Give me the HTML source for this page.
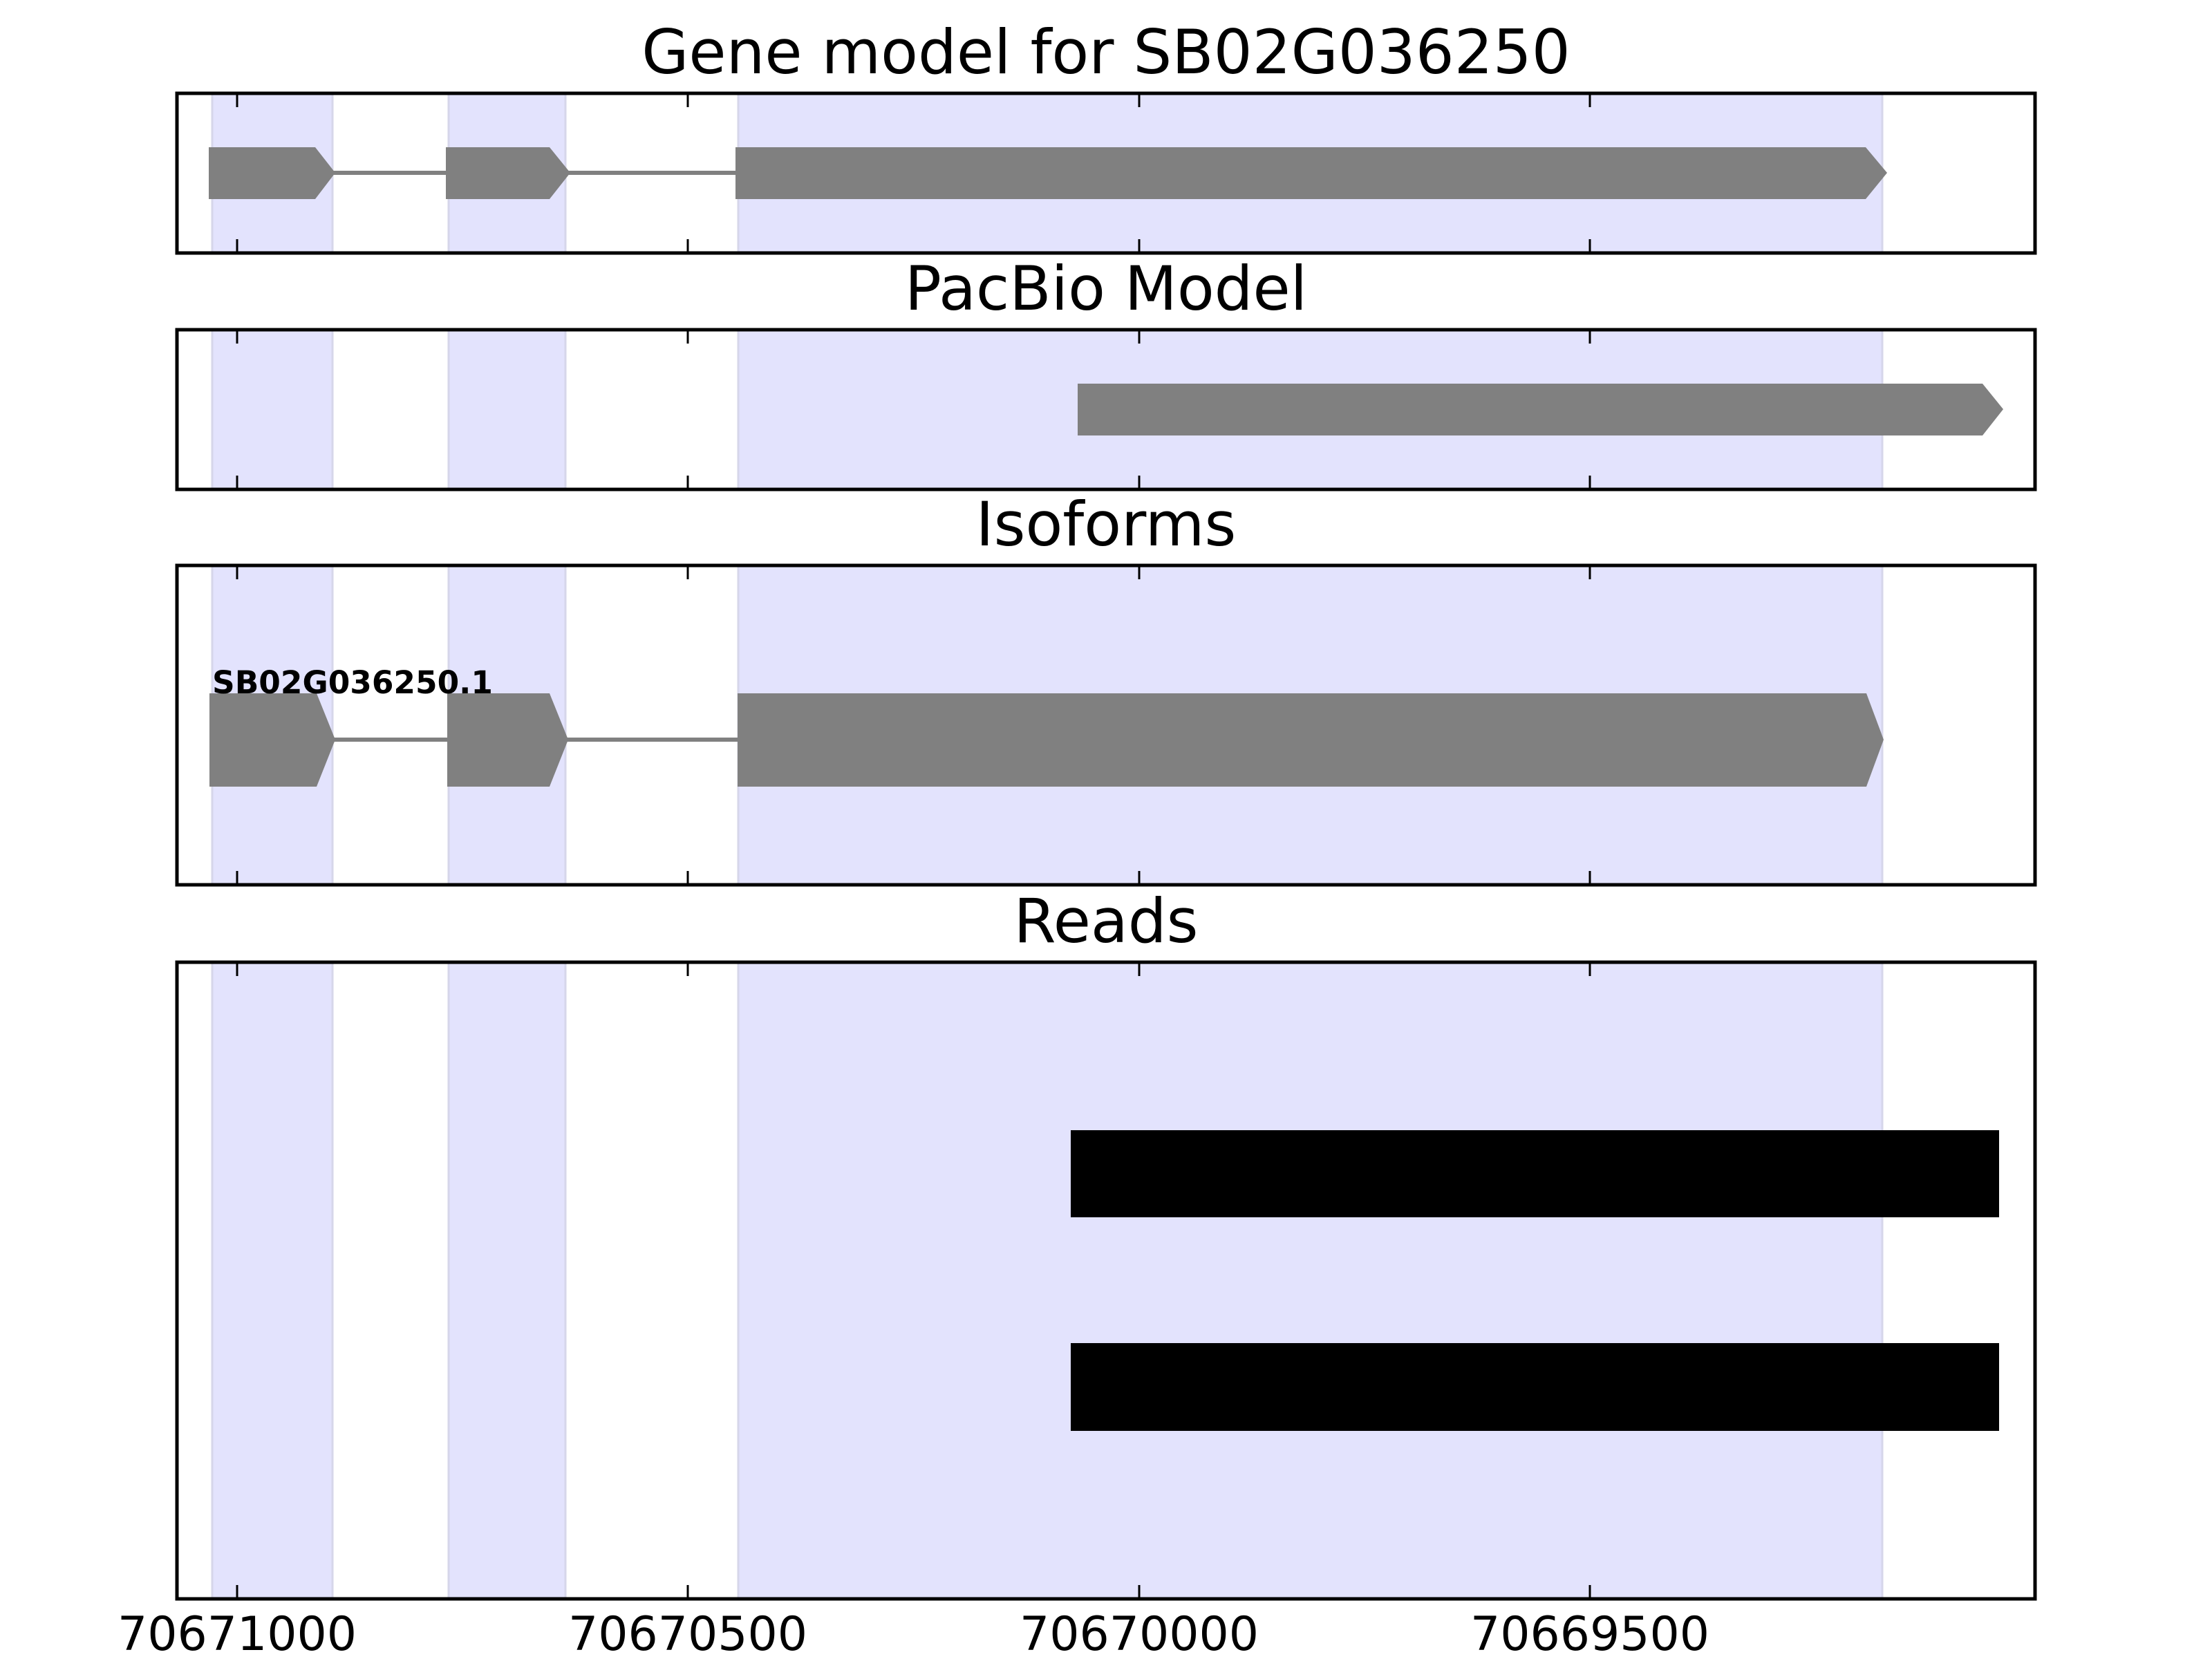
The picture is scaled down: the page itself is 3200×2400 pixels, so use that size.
<!DOCTYPE html>
<html><head><meta charset="utf-8"><style>html,body{margin:0;padding:0;background:#fff}svg{display:block}</style></head>
<body>
<svg width="3200" height="2400" viewBox="0 0 3200 2400" xmlns="http://www.w3.org/2000/svg" font-family="'DejaVu Sans','Liberation Sans',sans-serif">
<defs>
<g id="bands">
</g>
</defs>
<!-- Panel backgrounds with bands -->
<g id="p">
</g>
<g fill="#e3e3fd" stroke="#d6d6ea" stroke-width="3">
<rect x="307" y="135" width="174" height="231"/><rect x="649" y="135" width="169" height="231"/><rect x="1068" y="135" width="1655" height="231"/>
<rect x="307" y="477" width="174" height="231"/><rect x="649" y="477" width="169" height="231"/><rect x="1068" y="477" width="1655" height="231"/>
<rect x="307" y="818" width="174" height="462"/><rect x="649" y="818" width="169" height="462"/><rect x="1068" y="818" width="1655" height="462"/>
<rect x="307" y="1392" width="174" height="921"/><rect x="649" y="1392" width="169" height="921"/><rect x="1068" y="1392" width="1655" height="921"/>
</g>
<!-- Gene model -->
<g fill="#808080">
<rect x="480" y="247" width="170" height="6"/><rect x="820" y="247" width="250" height="6"/>
<polygon points="302,213 456,213 485,250 456,288 302,288"/>
<polygon points="645,213 795,213 825,250 795,288 645,288"/>
<polygon points="1064,213 2699,213 2730,250 2699,288 1064,288"/>
<!-- PacBio -->
<polygon points="1559,555 2868,555 2898,592 2868,630 1559,630"/>
<!-- Isoforms -->
<rect x="480" y="1067" width="170" height="6"/><rect x="820" y="1067" width="250" height="6"/>
<polygon points="303,1003 458,1003 485,1070 458,1138 303,1138"/>
<polygon points="647,1003 795,1003 822,1070 795,1138 647,1138"/>
<polygon points="1067,1003 2700,1003 2725,1070 2700,1138 1067,1138"/>
</g>
<text x="307" y="1003" font-size="45" font-weight="bold" fill="#000" textLength="406" lengthAdjust="spacingAndGlyphs">SB02G036250.1</text>
<!-- Reads -->
<rect x="1549" y="1635" width="1343" height="126" fill="#000"/>
<rect x="1549" y="1943" width="1343" height="127" fill="#000"/>
<!-- Frames -->
<g fill="none" stroke="#000" stroke-width="5">
<rect x="256" y="135" width="2688" height="231"/>
<rect x="256" y="477" width="2688" height="231"/>
<rect x="256" y="818" width="2688" height="462"/>
<rect x="256" y="1392" width="2688" height="921"/>
</g>
<g stroke="#000" stroke-width="3">
<path d="M343 135v20M995 135v20M1648 135v20M2300 135v20M343 366v-20M995 366v-20M1648 366v-20M2300 366v-20"/>
<path d="M343 477v20M995 477v20M1648 477v20M2300 477v20M343 708v-20M995 708v-20M1648 708v-20M2300 708v-20"/>
<path d="M343 818v20M995 818v20M1648 818v20M2300 818v20M343 1280v-20M995 1280v-20M1648 1280v-20M2300 1280v-20"/>
<path d="M343 1392v20M995 1392v20M1648 1392v20M2300 1392v20M343 2313v-20M995 2313v-20M1648 2313v-20M2300 2313v-20"/>
</g>
<!-- Titles -->
<g font-size="88" fill="#000" text-anchor="middle">
<text x="1600" y="106">Gene model for SB02G036250</text>
<text x="1600" y="448">PacBio Model</text>
<text x="1600" y="789">Isoforms</text>
<text x="1600" y="1363">Reads</text>
</g>
<g font-size="68" fill="#000" text-anchor="middle">
<text x="343" y="2387">70671000</text>
<text x="995" y="2387">70670500</text>
<text x="1648" y="2387">70670000</text>
<text x="2300" y="2387">70669500</text>
</g>
</svg>
</body></html>
